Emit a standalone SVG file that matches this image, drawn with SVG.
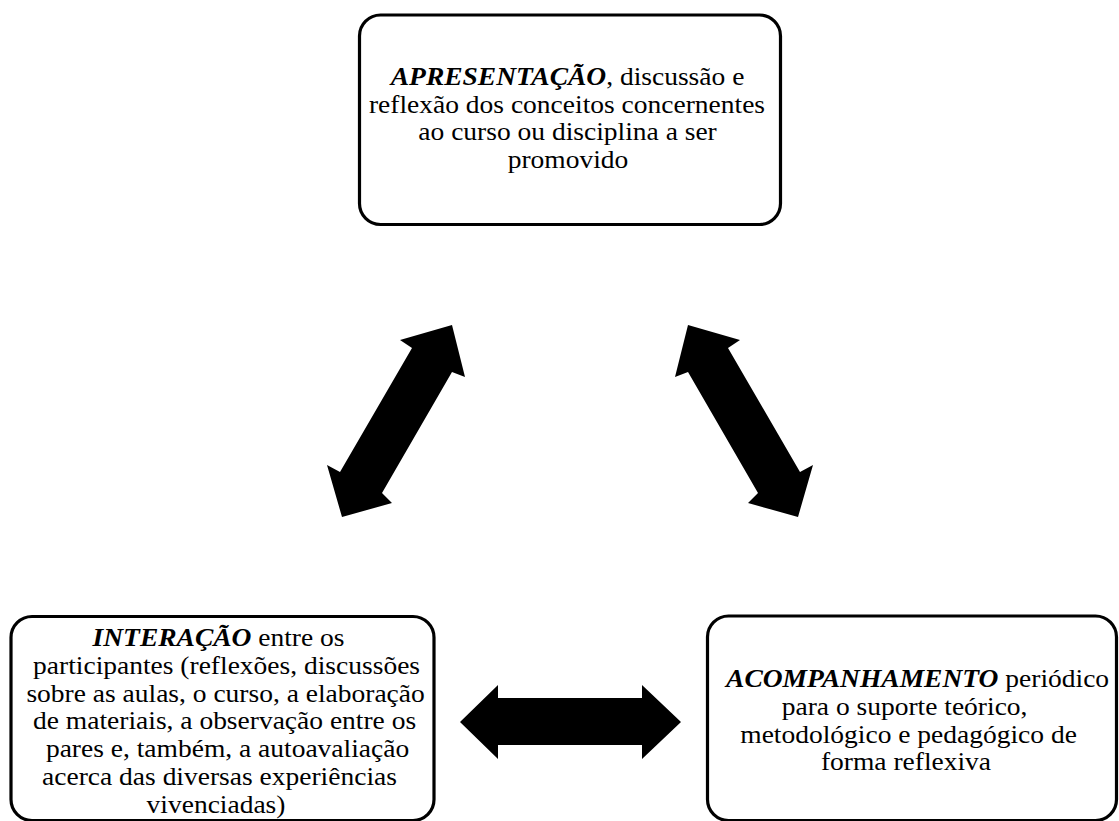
<svg xmlns="http://www.w3.org/2000/svg" width="1119" height="821" viewBox="0 0 1119 821">
  <style>
    .box { fill: #ffffff; stroke: #000000; stroke-width: 3.2; }
    .txt { font-family: "Liberation Serif", "Times New Roman", serif; font-size: 25px; fill: #000000; text-anchor: middle; }
    .em { font-weight: bold; font-style: italic; }
    .arrow { fill: #000000; stroke: none; }
  </style>
  <rect width="1119" height="821" fill="#ffffff"/>

  <!-- connectors: thick block double-headed arrows -->
  <g id="connectors">
    <polygon class="arrow" points="452,325 465,377 452,372 382,493 392,503 342,517 327,465 340,472 412,348 400,340"/>
    <polygon class="arrow" points="688,325 675,377 688,372 758,493 748,503 798,517 813,465 800,472 728,348 740,340"/>
    <polygon class="arrow" points="460,722 498,685 498,698 642,698 642,685 681,722 642,759 642,745 498,745 498,759"/>
  </g>

  <!-- text is set slightly wide: x coordinates are in the scaled space (x / 1.1) -->
  <g id="node-apresentacao">
    <rect class="box" x="359.5" y="15" width="421" height="209.5" rx="21" ry="21"/>
    <text class="txt" transform="scale(1.1 1)">
      <tspan x="519.1" y="85"><tspan class="em">APRESENTAÇÃO</tspan>, discussão e</tspan>
      <tspan x="518.6" y="112.6">reflexão dos conceitos concernentes</tspan>
      <tspan x="519.1" y="140.2">ao curso ou disciplina a ser</tspan>
      <tspan x="516.4" y="167.8">promovido</tspan>
    </text>
  </g>

  <g id="node-interacao">
    <rect class="box" x="11" y="616.5" width="423" height="204" rx="21" ry="21"/>
    <text class="txt" transform="scale(1.1 1)">
      <tspan x="201.8" y="646"><tspan class="em">INTERAÇÃO</tspan> entre os</tspan>
      <tspan x="209.1" y="673.8">participantes (reflexões, discussões</tspan>
      <tspan x="208.2" y="701.6">sobre as aulas, o curso, a elaboração</tspan>
      <tspan x="207.3" y="729.4">de materiais, a observação entre os</tspan>
      <tspan x="210" y="757.2">pares e, também, a autoavaliação</tspan>
      <tspan x="202.7" y="785">acerca das diversas experiências</tspan>
      <tspan x="196.4" y="812.8">vivenciadas)</tspan>
    </text>
  </g>

  <g id="node-acompanhamento">
    <rect class="box" x="707.5" y="616" width="409" height="204.5" rx="21" ry="21"/>
    <text class="txt" transform="scale(1.1 1)">
      <tspan x="837.3" y="687"><tspan class="em">ACOMPANHAMENTO</tspan> periódico</tspan>
      <tspan x="825.5" y="714.8">para o suporte teórico,</tspan>
      <tspan x="829.1" y="742.6">metodológico e pedagógico de</tspan>
      <tspan x="823.6" y="770.4">forma reflexiva</tspan>
    </text>
  </g>
</svg>
